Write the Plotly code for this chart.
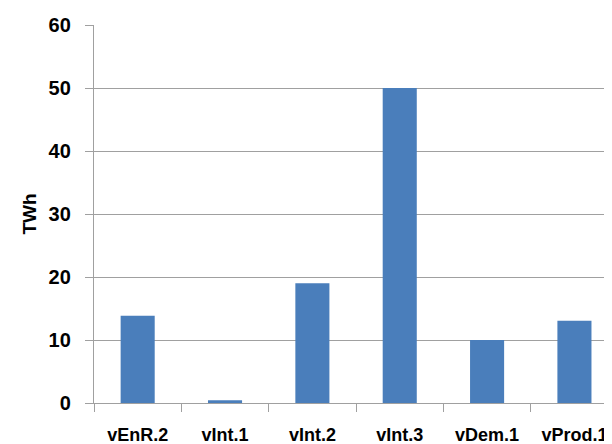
import plotly.graph_objects as go

categories = ["vEnR.2", "vInt.1", "vInt.2", "vInt.3", "vDem.1", "vProd.1"]
values = [13.85, 0.45, 19.0, 50.0, 10.0, 13.05]
y_ticks = [0, 10, 20, 30, 40, 50, 60]

fig = go.Figure()
fig.add_trace(go.Bar(x=categories, y=values, marker=dict(color="#4a7ebb", line=dict(width=0))))

font_family = "Liberation Sans, Arial, sans-serif"
fig.update_layout(
    width=604, height=436,
    margin=dict(l=86, r=0, t=17, b=41),
    paper_bgcolor="white", plot_bgcolor="white",
    bargap=0.61,
    showlegend=False,
    font=dict(family=font_family, size=19, color="black"),
)
fig.update_xaxes(
    type="category", range=[-0.5, 5.43], automargin=False,
    tickson="boundaries", ticks="outside", ticklen=8, tickcolor="#a0a0a0", tickwidth=1.3,
    showline=True, linecolor="#a0a0a0", linewidth=1.3,
    showgrid=False,
    ticklabelstandoff=15,
    tickfont=dict(family=font_family, size=18, color="black", weight="bold"),
)
fig.update_yaxes(
    range=[0, 60], tickvals=y_ticks, automargin=False,
    ticks="outside", ticklen=8, tickcolor="#a0a0a0", tickwidth=1.3,
    showline=True, linecolor="#a0a0a0", linewidth=1.3,
    showgrid=True, gridcolor="#a0a0a0", gridwidth=1.3,
    zeroline=False,
    ticklabelstandoff=10,
    tickfont=dict(family=font_family, size=20, color="black", weight="bold"),
    title=dict(text="TWh", font=dict(family=font_family, size=19, color="black", weight="bold"), standoff=6),
)
fig.write_html("out.html")
